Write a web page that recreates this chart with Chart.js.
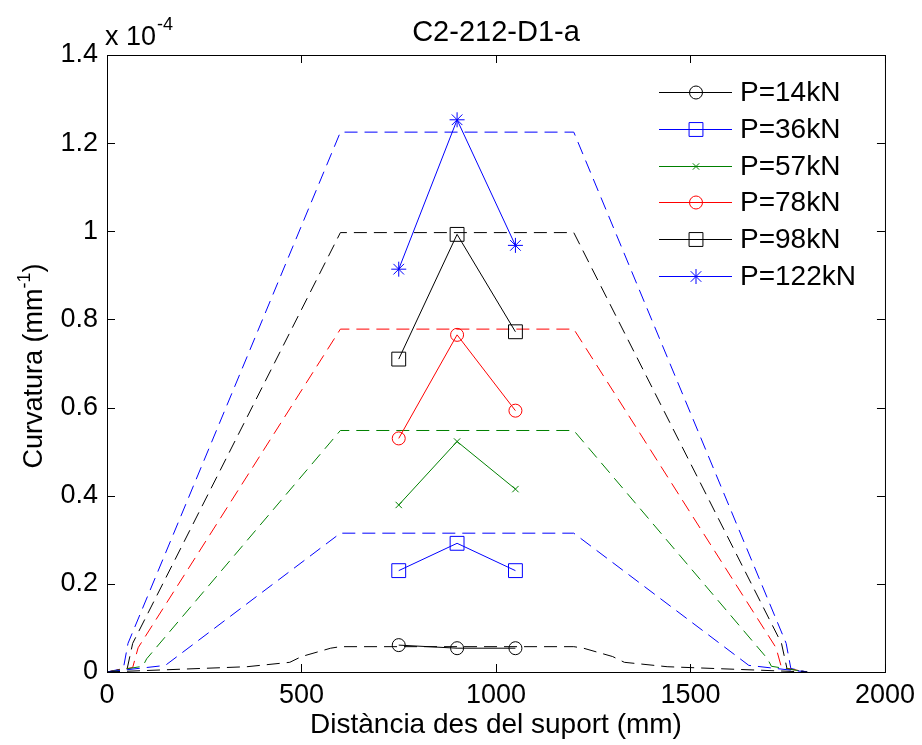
<!DOCTYPE html>
<html>
<head>
<meta charset="utf-8">
<script src="https://cdn.jsdelivr.net/npm/chart.js@4/dist/chart.umd.min.js"></script>
<style>
  html, body { margin: 0; padding: 0; background: #fff; }
  #wrapper { width: 922px; height: 745px; }
</style>
</head>
<body>
<div id="wrapper"><canvas id="Scheme" width="922" height="745"></canvas></div>
<script>
// loads and gauge positions along the beam (mm)
let loads = [14, 36, 57, 78, 98, 122],
    gaugeX = [750, 900, 1050],
    span = 1800;

// measured curvature at the gauges (x 10^-4 mm^-1)
let curv14 = [0.061, 0.054, 0.054],
    curv36 = [0.230, 0.292, 0.230],
    curv57 = [0.379, 0.523, 0.415],
    curv78 = [0.530, 0.765, 0.593],
    curv98 = [0.710, 0.993, 0.772],
    curv122 = [0.914, 1.253, 0.968];

// predicted curvature, support to load point (mirrored for the other half)
let th14X = [0, 360, 470, 500, 575, 600],   th14Y = [0, 0.012, 0.022, 0.035, 0.054, 0.0575],
    th36X = [0, 150, 600],                  th36Y = [0, 0.015, 0.315],
    th57X = [0, 92, 102, 600],              th57Y = [0, 0.013, 0.03, 0.548],
    th78X = [0, 66, 80, 600],               th78Y = [0, 0.010, 0.055, 0.778],
    th98X = [0, 52, 66, 600],               th98Y = [0, 0.008, 0.065, 0.997],
    th122X = [0, 42, 54, 600],              th122Y = [0, 0.008, 0.065, 1.225];

let xTicks = [0, 500, 1000, 1500, 2000],
    yTicks = [0, 0.2, 0.4, 0.6, 0.8, 1, 1.2, 1.4];

let measured = [curv14, curv36, curv57, curv78, curv98, curv122],
    theoryX = [th14X, th36X, th57X, th78X, th98X, th122X],
    theoryY = [th14Y, th36Y, th57Y, th78Y, th98Y, th122Y],
    colors = ['#000000', '#0000ff', '#008000', '#ff0000', '#000000', '#0000ff'],
    markers = ['circle', 'rect', 'crossRot', 'circle', 'rect', 'star'],
    markerSize = [6.5, 9.8, 4.5, 6.5, 9.8, 7.5],
    font = '"Liberation Sans", Arial, sans-serif';

function profile(xs, ys) {
    let pts = [];
    for (let i = 0; i < xs.length; i++) pts.push({x: xs[i], y: ys[i]});
    for (let i = xs.length - 1; i >= 0; i--) pts.push({x: span - xs[i], y: ys[i]});
    return pts;
}

let datasets = [];
loads.forEach(function (p, i) {
    datasets.push({
        label: 'P=' + p + 'kN',
        data: gaugeX.map(function (x, j) { return {x: x, y: measured[i][j]}; }),
        borderColor: colors[i],
        backgroundColor: 'rgba(0,0,0,0)',
        borderWidth: 1,
        pointStyle: markers[i],
        pointRadius: markerSize[i],
        pointBorderWidth: 1,
        pointBorderColor: colors[i],
        pointBackgroundColor: 'rgba(0,0,0,0)',
        tension: 0
    });
});
loads.forEach(function (p, i) {
    datasets.push({
        label: 'theory ' + p,
        data: profile(theoryX[i], theoryY[i]),
        borderColor: colors[i],
        borderWidth: 1,
        borderDash: [13, 7],
        pointRadius: 0,
        tension: 0
    });
});

const frame = {
    id: 'frame',
    afterDraw(chart) {
        const ctx = chart.ctx, a = chart.chartArea, sx = chart.scales.x, sy = chart.scales.y;
        ctx.save();
        ctx.strokeStyle = '#000';
        ctx.lineWidth = 1;
        ctx.strokeRect(a.left + 0.5, a.top + 0.5, a.right - a.left, a.bottom - a.top);
        ctx.beginPath();
        xTicks.forEach(function (v) {
            let px = Math.round(sx.getPixelForValue(v)) + 0.5;
            ctx.moveTo(px, a.bottom); ctx.lineTo(px, a.bottom - 8);
            ctx.moveTo(px, a.top); ctx.lineTo(px, a.top + 8);
        });
        yTicks.forEach(function (v) {
            let py = Math.round(sy.getPixelForValue(v)) + 0.5;
            ctx.moveTo(a.left, py); ctx.lineTo(a.left + 8, py);
            ctx.moveTo(a.right, py); ctx.lineTo(a.right - 8, py);
        });
        ctx.stroke();

        ctx.fillStyle = '#000';
        // exponent above the y axis
        ctx.textBaseline = 'alphabetic';
        ctx.textAlign = 'left';
        ctx.font = '27px ' + font;
        ctx.fillText('x 10', 105, 45);
        let w = ctx.measureText('x 10').width;
        ctx.font = '18px ' + font;
        ctx.fillText('-4', 105 + w + 1, 30);

        // title
        ctx.textAlign = 'center';
        ctx.font = '29px ' + font;
        ctx.fillText('C2-212-D1-a', (a.left + a.right) / 2, 41);

        // x title
        ctx.font = '28px ' + font;
        ctx.fillText('Distància des del suport (mm)', (a.left + a.right) / 2, 733);

        // y title with superscript
        ctx.translate(42, 366);
        ctx.rotate(-Math.PI / 2);
        let t1 = 'Curvatura (mm', t3 = ')';
        ctx.font = '27px ' + font;
        let w1 = ctx.measureText(t1).width, w3 = ctx.measureText(t3).width;
        ctx.font = '18px ' + font;
        let w2 = ctx.measureText('-1').width;
        let x0 = -(w1 + w2 + w3) / 2;
        ctx.textAlign = 'left';
        ctx.font = '27px ' + font;
        ctx.fillText(t1, x0, 0);
        ctx.font = '18px ' + font;
        ctx.fillText('-1', x0 + w1, -12);
        ctx.font = '27px ' + font;
        ctx.fillText(t3, x0 + w1 + w2, 0);
        ctx.restore();

        // legend
        ctx.save();
        ctx.font = '28px ' + font;
        ctx.textAlign = 'left';
        ctx.textBaseline = 'middle';
        loads.forEach(function (p, i) {
            let ry = Math.round(92 + i * 36.8) + 0.5;
            ctx.strokeStyle = colors[i];
            ctx.lineWidth = 1;
            ctx.setLineDash([]);
            ctx.beginPath();
            ctx.moveTo(659, ry);
            ctx.lineTo(732, ry);
            ctx.stroke();
            ctx.fillStyle = 'rgba(0,0,0,0)';
            Chart.helpers.drawPoint(ctx, {pointStyle: markers[i], radius: markerSize[i], borderWidth: 1, rotation: 0}, 696, ry);
            ctx.fillStyle = '#000';
            ctx.fillText('P=' + p + 'kN', 740, ry + 1);
        });
        ctx.restore();
    }
};

const ctx = document.getElementById('Scheme').getContext('2d');
const chart = new Chart(ctx, {
    type: 'line',
    data: { datasets: datasets },
    options: {
        responsive: false,
        animation: false,
        layout: { padding: { top: 55, right: 35, left: 0, bottom: 0 } },
        plugins: { legend: { display: false }, title: { display: false }, tooltip: { enabled: false } },
        scales: {
            x: {
                type: 'linear', min: 0, max: 2000,
                afterBuildTicks: function (s) { s.ticks = xTicks.map(function (v) { return {value: v}; }); },
                ticks: { color: '#000', font: { family: font, size: 27 }, padding: 7, maxRotation: 0,
                    callback: function (v) { return String(v); } },
                grid: { display: false, drawTicks: false },
                border: { display: false },
                afterFit: function (s) { s.height = 73; }
            },
            y: {
                type: 'linear', min: 0, max: 1.4,
                afterBuildTicks: function (s) { s.ticks = yTicks.map(function (v) { return {value: v}; }); },
                ticks: { color: '#000', font: { family: font, size: 27 }, padding: 9,
                    callback: function (v) { return String(Math.round(v * 10) / 10); } },
                grid: { display: false, drawTicks: false },
                border: { display: false },
                afterFit: function (s) { s.width = 107; }
            }
        }
    },
    plugins: [frame]
});
</script>
</body>
</html>
